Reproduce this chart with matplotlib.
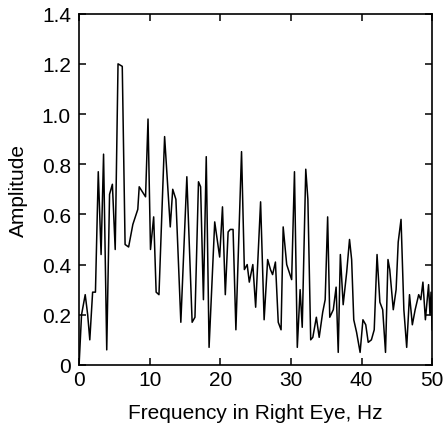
import matplotlib
matplotlib.use("Agg")
import matplotlib.pyplot as plt

freq = [0.0, 0.33, 0.85, 1.2, 1.5, 1.9, 2.3, 2.7, 3.1, 3.45, 3.9, 4.3, 4.7, 5.1, 5.5, 6.1,
        6.5, 7.0, 7.6, 8.3, 8.5, 9.4, 9.75, 10.1, 10.55, 10.9, 11.3, 12.1, 12.9, 13.25,
        13.7, 14.4, 15.25, 16.0, 16.4, 16.9, 17.2, 17.6, 18.0, 18.4, 19.2, 19.9, 20.3,
        20.7, 21.1, 21.4, 21.8, 22.2, 23.0, 23.4, 23.8, 24.1, 24.6, 25.0, 25.7, 26.2,
        26.7, 27.1, 27.4, 27.8, 28.2, 28.6, 28.9, 29.4, 30.1, 30.5, 30.9, 31.3, 31.6,
        32.1, 32.4, 32.8, 33.1, 33.6, 34.0, 34.5, 34.85, 35.2, 35.5, 36.0, 36.4, 36.7,
        37.0, 37.4, 37.9, 38.3, 38.6, 38.9, 39.3, 39.8, 40.2, 40.6, 40.95, 41.4, 41.8,
        42.2, 42.6, 43.0, 43.4, 43.75, 44.0, 44.5, 44.9, 45.2, 45.6, 46.0, 46.4, 46.8,
        47.2, 47.6, 48.1, 48.4, 48.7, 49.05, 49.5, 49.7, 49.85, 50.0]
amplitude = [0.01, 0.20, 0.28, 0.20, 0.10, 0.29, 0.29, 0.77, 0.44, 0.84, 0.06, 0.68, 0.72,
             0.46, 1.20, 1.19, 0.48, 0.47, 0.56, 0.62, 0.71, 0.67, 0.98, 0.46, 0.59, 0.29,
             0.28, 0.91, 0.55, 0.70, 0.66, 0.17, 0.75, 0.17, 0.19, 0.73, 0.71, 0.26, 0.83,
             0.07, 0.57, 0.43, 0.63, 0.28, 0.53, 0.54, 0.54, 0.14, 0.85, 0.38, 0.40, 0.33,
             0.40, 0.23, 0.65, 0.18, 0.42, 0.38, 0.36, 0.41, 0.17, 0.14, 0.55, 0.40, 0.34,
             0.77, 0.07, 0.30, 0.15, 0.78, 0.66, 0.10, 0.11, 0.19, 0.11, 0.21, 0.26, 0.59,
             0.19, 0.22, 0.31, 0.05, 0.44, 0.24, 0.37, 0.50, 0.42, 0.18, 0.13, 0.05, 0.18,
             0.16, 0.09, 0.10, 0.14, 0.44, 0.25, 0.22, 0.05, 0.42, 0.38, 0.22, 0.30, 0.49,
             0.58, 0.22, 0.07, 0.28, 0.16, 0.22, 0.28, 0.26, 0.33, 0.18, 0.32, 0.20, 0.29,
             0.14]

x_ticks = [0, 10, 20, 30, 40, 50]
y_ticks = [0, 0.2, 0.4, 0.6, 0.8, 1.0, 1.2, 1.4]
y_tick_labels = ["0", "0.2", "0.4", "0.6", "0.8", "1.0", "1.2", "1.4"]

plt.rcParams['font.family'] = ['Liberation Sans', 'DejaVu Sans']

fig = plt.figure(figsize=(4.45, 4.31), dpi=100)
ax = fig.add_axes([0.178, 0.151, 0.793, 0.815])
ax.plot(freq, amplitude, color='black', linewidth=1.1)
ax.set_xlim(0, 50)
ax.set_ylim(0, 1.4)
ax.set_xticks(x_ticks)
ax.set_xticklabels([str(t) for t in x_ticks])
ax.set_yticks(y_ticks)
ax.set_yticklabels(y_tick_labels)
ax.tick_params(direction='in', top=True, right=True, length=5, width=1.1,
               labelsize=15)
ax.tick_params(axis='y', pad=6)
ax.tick_params(axis='x', pad=4)
for s in ax.spines.values():
    s.set_linewidth(1.2)
ax.set_xlabel("Frequency in Right Eye, Hz", fontsize=15, labelpad=10)
ax.set_ylabel("Amplitude", fontsize=15, labelpad=10)
fig.savefig("out.png", dpi=100)
